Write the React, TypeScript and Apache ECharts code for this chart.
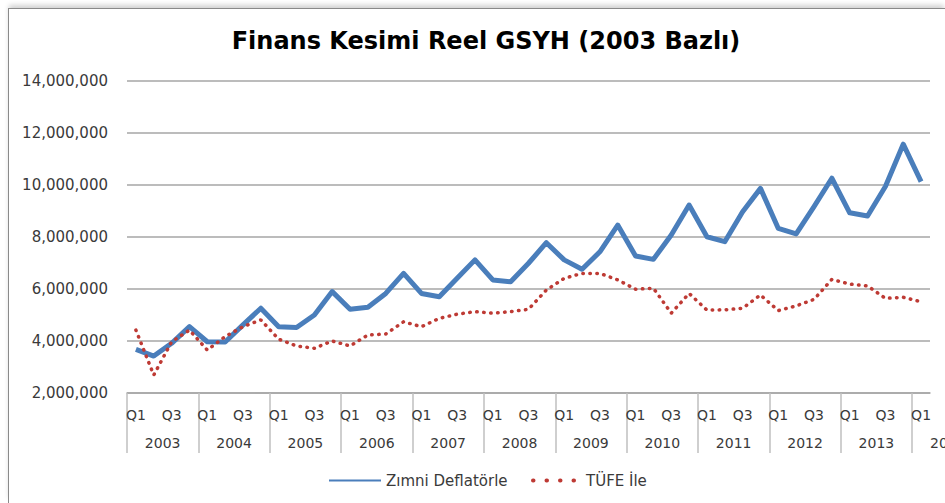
import React, { useEffect, useRef } from "react";
import * as echarts from "echarts";

const titleText = "Finans Kesimi Reel GSYH (2003 Bazlı)";
const years = ["2003", "2004", "2005", "2006", "2007", "2008", "2009", "2010", "2011", "2012", "2013", "2014"];
const quarterNames = ["Q1", "Q2", "Q3", "Q4"];
const seriesNames = ["Zımni Deflatörle", "TÜFE İle"];

// 2003 Q1 ... 2014 Q1 (45 quarters)
const zimniDeflator = [
  3680000, 3420000, 3910000, 4550000,
  3970000, 3960000, 4620000, 5260000,
  4550000, 4520000, 5000000, 5900000,
  5220000, 5300000, 5830000, 6600000,
  5830000, 5700000, 6410000, 7120000,
  6350000, 6280000, 6990000, 7780000,
  7120000, 6760000, 7430000, 8460000,
  7270000, 7140000, 8080000, 9230000,
  8010000, 7820000, 8970000, 9870000,
  8330000, 8120000, 9170000, 10260000,
  8930000, 8810000, 9940000, 11570000,
  10130000,
];
const tufe = [
  4420000, 2690000, 3970000, 4420000,
  3650000, 4170000, 4550000, 4810000,
  4070000, 3810000, 3720000, 4000000,
  3810000, 4230000, 4270000, 4740000,
  4550000, 4870000, 5030000, 5130000,
  5070000, 5130000, 5220000, 5960000,
  6410000, 6600000, 6600000, 6350000,
  5990000, 6030000, 5070000, 5830000,
  5190000, 5200000, 5260000, 5770000,
  5170000, 5350000, 5600000, 6370000,
  6190000, 6120000, 5640000, 5680000,
  5510000,
];
const yMin = 2000000;
const yMax = 14000000;
const yStep = 2000000;

const categories: string[] = [];
years.forEach((y, yi) => {
  quarterNames.forEach((q, qi) => {
    if (yi < years.length - 1 || qi === 0) categories.push(y + " " + q);
  });
});

// boundary positions (n+1) for the year-group axis
const boundaries: string[] = [];
for (let i = 0; i <= categories.length; i++) boundaries.push("b" + i);

const FONT = "'DejaVu Sans', sans-serif";
const TXT = "#3a3a3a";
const GRID = "#a6a6a6";
const BLUE = "#4a7ebb";
const RED = "#be3a34";

export default function App() {
  const ref = useRef<HTMLDivElement>(null);
  useEffect(() => {
    const chart = echarts.init(ref.current!, null, { renderer: "svg" });
    const n = categories.length;
    chart.setOption({
      animation: false,
      backgroundColor: "#ffffff",
      textStyle: { fontFamily: FONT },
      title: {
        text: titleText,
        left: 472,
        top: 15,
        textAlign: "center",
        textStyle: { fontFamily: FONT, fontSize: 24, fontWeight: "bold", color: "#000000" },
      },
      legend: [
        {
          data: [seriesNames[0]],
          left: 314,
          top: 459,
          itemWidth: 52,
          itemHeight: 14,
          itemStyle: { opacity: 0 },
          textStyle: { fontFamily: FONT, fontSize: 15, color: TXT },
        },
        {
          data: [seriesNames[1]],
          left: 517,
          top: 459,
          itemWidth: 48,
          itemHeight: 14,
          itemStyle: { opacity: 0 },
          lineStyle: { type: [0.5, 13], cap: "round", width: 4 },
          textStyle: { fontFamily: FONT, fontSize: 15, color: TXT },
        },
      ],
      grid: { left: 118, right: 15, top: 72, bottom: 110, containLabel: false, outerBoundsMode: "none" },
      xAxis: [
        {
          type: "category",
          data: categories,
          boundaryGap: true,
          axisLine: { show: true, lineStyle: { color: GRID, width: 1.5 } },
          axisTick: { show: false },
          axisLabel: {
            interval: (i: number) => i % 2 === 0,
            formatter: (v: string) => v.split(" ")[1],
            margin: 14,
            fontFamily: FONT,
            fontSize: 14,
            lineHeight: 16,
            color: TXT,
          },
        },
        {
          type: "category",
          data: boundaries,
          boundaryGap: false,
          position: "bottom",
          axisLine: { show: false },
          axisTick: {
            show: true,
            interval: (i: number) => i % 4 === 0 && i < n,
            length: 60,
            lineStyle: { color: "#bfbfbf", width: 1.5 },
          },
          axisLabel: {
            interval: 0,
            align: "left",
            formatter: (v: string, i: number) => {
              if (i === n) return years[years.length - 1];
              if (i % 4 === 1 && i < n - 1) return years[(i - 1) / 4];
              return "";
            },
            margin: 42,
            fontFamily: FONT,
            fontSize: 14,
            lineHeight: 16,
            color: TXT,
          },
          splitLine: { show: false },
        },
      ],
      yAxis: {
        type: "value",
        min: yMin,
        max: yMax,
        interval: yStep,
        axisLine: { show: false },
        axisTick: { show: false },
        splitLine: { lineStyle: { color: GRID, width: 1.5 } },
        axisLabel: {
          margin: 19,
          fontFamily: FONT,
          fontSize: 15,
          color: TXT,
          formatter: (v: number) => v.toLocaleString("en-US"),
        },
      },
      series: [
        {
          name: seriesNames[0],
          type: "line",
          data: zimniDeflator,
          symbol: "none",
          lineStyle: { color: BLUE, width: 5, join: "round" },
          itemStyle: { color: BLUE },
        },
        {
          name: seriesNames[1],
          type: "line",
          data: tufe,
          symbol: "none",
          lineStyle: { color: RED, width: 3.5, type: [0.5, 6.5], cap: "round" },
          itemStyle: { color: RED },
        },
      ],
    });
    return () => chart.dispose();
  }, []);
  return (
    <div
      style={{
        position: "absolute",
        left: 8,
        top: 8,
        width: 937,
        height: 495,
        boxSizing: "border-box",
        borderLeft: "1px solid #8a8a8a",
        borderTop: "1px solid #8a8a8a",
        boxShadow: "0 -4px 5px -1px rgba(0,0,0,0.18)",
        background: "#fff",
      }}
    >
      <div ref={ref} style={{ width: 936, height: 494 }} />
    </div>
  );
}
